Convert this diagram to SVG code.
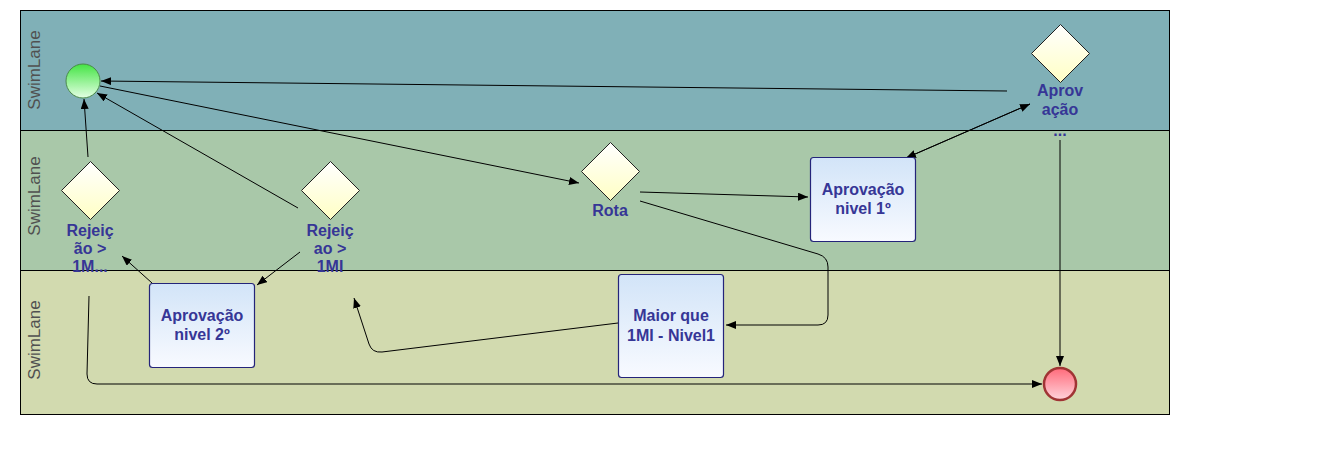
<svg xmlns="http://www.w3.org/2000/svg" width="1329" height="468" viewBox="0 0 1329 468">
<defs>
<linearGradient id="gBox" x1="0" y1="0" x2="0" y2="1"><stop offset="0" stop-color="#d2e4f8"/><stop offset="1" stop-color="#f8faff"/></linearGradient>
<linearGradient id="gDia" x1="0" y1="0" x2="0" y2="1"><stop offset="0" stop-color="#ffffff"/><stop offset="1" stop-color="#ffffc4"/></linearGradient>
<linearGradient id="gStart" x1="0" y1="0" x2="0" y2="1"><stop offset="0" stop-color="#44e444"/><stop offset="1" stop-color="#e4ffe4"/></linearGradient>
<linearGradient id="gEnd" x1="0" y1="0" x2="0" y2="1"><stop offset="0" stop-color="#ff6a7a"/><stop offset="1" stop-color="#ffd4dc"/></linearGradient>
<marker id="arr" viewBox="0 0 10 8" refX="10" refY="4" markerWidth="10" markerHeight="8" markerUnits="userSpaceOnUse" orient="auto"><path d="M0,0 L10,4 L0,8 z" fill="#000"/></marker>
</defs>
<style>
.lane{stroke:#000;stroke-width:1}
.lt{font-family:"Liberation Sans",Arial,sans-serif;font-size:17px;fill:#505050;text-anchor:middle}
.box{fill:url(#gBox);stroke:#24247a;stroke-width:1.2}
.dia{fill:url(#gDia);stroke:#222;stroke-width:1}
.t{font-family:"Liberation Sans",Arial,sans-serif;font-size:16px;font-weight:bold;fill:#363696;text-anchor:middle}
.c{fill:none;stroke:#000;stroke-width:1;marker-end:url(#arr)}
</style>
<rect width="1329" height="468" fill="#fff"/>
<g id="lanes">
<rect class="lane" x="20.5" y="10.5" width="1149" height="120" fill="#80b0b7"/>
<rect class="lane" x="20.5" y="130.5" width="1149" height="140" fill="#a9c8a9"/>
<rect class="lane" x="20.5" y="270.5" width="1149" height="144" fill="#d2daaf"/>
<text class="lt" transform="translate(40,70) rotate(-90)">SwimLane</text>
<text class="lt" transform="translate(40,196) rotate(-90)">SwimLane</text>
<text class="lt" transform="translate(40,340) rotate(-90)">SwimLane</text>
</g>
<g id="connectors">
<line class="c" x1="1007" y1="91" x2="101" y2="81"/>
<line class="c" x1="100" y1="86" x2="579" y2="183"/>
<line class="c" x1="298" y1="208" x2="97" y2="93"/>
<line class="c" x1="88" y1="157" x2="84" y2="99"/>
<line class="c" x1="640" y1="192" x2="808" y2="197"/>
<path class="c" d="M640,201 L818,254 Q828,257 828,267 L828,315 Q828,325 818,325 L726,325"/>
<line class="c" x1="1030" y1="104" x2="906" y2="158"/>
<line class="c" x1="906" y1="158" x2="1030" y2="104"/>
<line class="c" x1="1060" y1="140" x2="1060" y2="366"/>
<path class="c" d="M89,296 L87,374 Q87,384 97,384 L1042,384"/>
<line class="c" x1="152" y1="283" x2="122" y2="256"/>
<line class="c" x1="300" y1="252" x2="257" y2="285"/>
<path class="c" d="M618,323 L382,352 Q372,353 369,344 L354,298"/>
</g>
<g id="start"><circle cx="83" cy="81" r="17" fill="url(#gStart)" stroke="#4a8a4a" stroke-width="1"/></g>
<g id="end"><circle cx="1060" cy="384" r="16" fill="url(#gEnd)" stroke="#a03434" stroke-width="2.5"/></g>
<g id="rejeicao1">
<polygon class="dia" points="90.5,161.5 119.5,190.5 90.5,219.5 61.5,190.5"/>
<text class="t" x="90" y="236">Rejeiç</text><text class="t" x="90" y="254">ão &gt;</text><text class="t" x="90" y="272">1M...</text>
</g>
<g id="rejeicao2">
<polygon class="dia" points="330.5,161.5 359.5,190.5 330.5,219.5 301.5,190.5"/>
<text class="t" x="330" y="236">Rejeiç</text><text class="t" x="330" y="254">ao &gt;</text><text class="t" x="330" y="272">1MI</text>
</g>
<g id="rota">
<polygon class="dia" points="610.5,142.5 639.5,171.5 610.5,200.5 581.5,171.5"/>
<text class="t" x="610" y="216">Rota</text>
</g>
<g id="aprovacao">
<polygon class="dia" points="1060.5,24.5 1089.5,53.5 1060.5,82.5 1031.5,53.5"/>
<text class="t" x="1060" y="96">Aprov</text><text class="t" x="1060" y="115">ação</text><text class="t" x="1060" y="136">...</text>
</g>
<g id="nivel2">
<rect class="box" x="149.5" y="283.5" width="105" height="84" rx="3"/>
<text class="t" x="202" y="321">Aprovação</text><text class="t" x="202" y="340">nivel 2º</text>
</g>
<g id="nivel1">
<rect class="box" x="810.5" y="157.5" width="105" height="84" rx="3"/>
<text class="t" x="863" y="195">Aprovação</text><text class="t" x="863" y="214">nivel 1º</text>
</g>
<g id="maior">
<rect class="box" x="618.5" y="274.5" width="105" height="103" rx="3"/>
<text class="t" x="671" y="321">Maior que</text><text class="t" x="671" y="341">1MI - Nivel1</text>
</g>
</svg>
